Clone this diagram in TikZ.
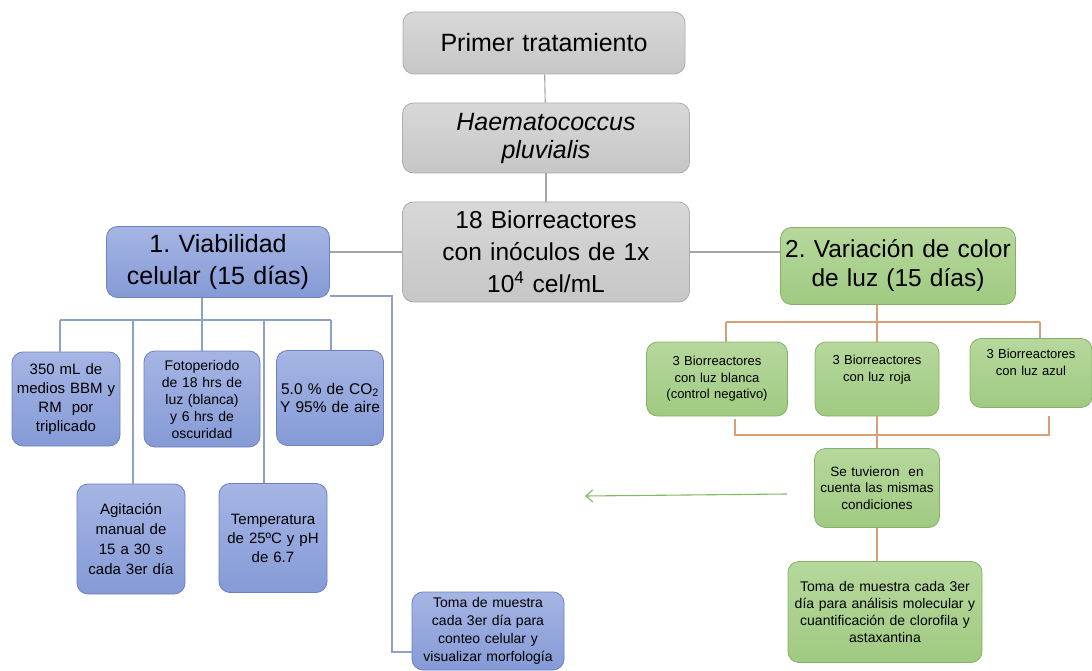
\documentclass[tikz,border=0pt]{standalone}
\usepackage{fontspec}
\setmainfont{Liberation Sans}
\usetikzlibrary{positioning,calc,arrows.meta}

\definecolor{graytop}{RGB}{216,216,216}
\definecolor{graybot}{RGB}{198,198,198}
\definecolor{grayedge}{RGB}{172,172,172}
\definecolor{grayln}{RGB}{165,165,165}
\definecolor{bluetop}{RGB}{165,181,228}
\definecolor{bluebot}{RGB}{133,154,214}
\definecolor{blueedge}{RGB}{108,128,190}
\definecolor{blueln}{RGB}{140,160,200}
\definecolor{greentop}{RGB}{182,216,156}
\definecolor{greenbot}{RGB}{160,202,130}
\definecolor{greenedge}{RGB}{132,176,104}
\definecolor{orangeln}{RGB}{214,160,120}
\definecolor{arrowgreen}{RGB}{130,185,100}

\tikzset{
  box/.style={draw,rounded corners=11pt,align=center,inner sep=0pt,line width=0.8pt},
  graybox/.style={box,draw=grayedge,top color=graytop,bottom color=graybot},
  bluebox/.style={box,draw=blueedge,top color=bluetop,bottom color=bluebot},
  greenbox/.style={box,draw=greenedge,top color=greentop,bottom color=greenbot},
  grayline/.style={draw=grayln,line width=1.1pt},
  blueline/.style={draw=blueln,line width=1.3pt},
  orangeline/.style={draw=orangeln,line width=1.1pt},
}

\begin{document}
\frenchspacing
\begin{tikzpicture}[x=1pt,y=-1pt]
% Page size in pixels of the scheme
\useasboundingbox (0,0) rectangle (1092,671);

% Central column
\node[graybox,minimum width=282,minimum height=62,text width=270,
  font=\fontsize{25}{30}\selectfont] (primer) at (544,43) {Primer tratamiento};
\node[graybox,minimum width=287,minimum height=70,text width=275,
  font=\fontsize{25}{28}\selectfont\itshape] (haema) at (546,138) {Haematococcus\\pluvialis};
\node[graybox,minimum width=287,minimum height=100,text width=275,
  font=\fontsize{24.5}{32}\selectfont] (bio) at (546,252)
  {18 Biorreactores\\con inóculos de 1x\\10\textsuperscript{4} cel/mL};

\draw[grayline] (primer) -- (haema);
\draw[grayline] (haema) -- (bio);

% Branch 1 (blue)
\node[bluebox,minimum width=223,minimum height=71,text width=215,
  font=\fontsize{25}{32}\selectfont] (viab) at (218,262) {1. Viabilidad\\celular (15 días)};
\draw[grayline] (bio.west -| viab.east) -- (bio.west);

\node[bluebox,minimum width=108,minimum height=94,text width=104,
  font=\fontsize{15}{19}\selectfont] (medio) at (66,399)
  {350 mL de\\medios BBM y\\RM\ \ por\\triplicado};
\node[bluebox,minimum width=116,minimum height=96,text width=112,
  font=\fontsize{14}{17}\selectfont] (foto) at (202,399)
  {Fotoperiodo\\de 18 hrs de\\luz (blanca)\\y 6 hrs de\\oscuridad};
\node[bluebox,minimum width=107,minimum height=95,text width=103,
  font=\fontsize{15.5}{18.5}\selectfont] (gas) at (330,398)
  {5.0 \% de CO\textsubscript{2}\\Y 95\% de aire};
\node[bluebox,minimum width=108,minimum height=110,text width=104,
  font=\fontsize{15}{20}\selectfont] (agit) at (131,539)
  {Agitación\\manual de\\15 a 30 s\\cada 3er día};
\node[bluebox,minimum width=108,minimum height=109,text width=104,
  font=\fontsize{15}{19}\selectfont] (temp) at (273,538)
  {Temperatura\\de 25ºC y pH\\de 6.7};
\node[bluebox,minimum width=152,minimum height=78,text width=148,
  font=\fontsize{14}{18}\selectfont] (tomab) at (488,631)
  {Toma de muestra\\cada 3er día para\\conteo celular y\\visualizar morfología};

% Comb under branch 1
\coordinate (cl) at (60,320);
\coordinate (cr) at (331,320);
\coordinate (ca) at (133,320);
\coordinate (ct) at (264,320);
\draw[blueline] (cl) -- (cr);
\draw[blueline] (cl) -- (cl |- medio.north);
\draw[blueline] (cr) -- (cr |- gas.north);
\draw[blueline] (foto.north |- viab.south) -- (foto.north);
\draw[blueline] (ca) -- (ca |- agit.north);
\draw[blueline] (ct) -- (ct |- temp.north);

% Side line down to sampling
\coordinate (sd) at (392,296);
\coordinate (sb) at (392,652);
\draw[blueline] (viab.east |- sd) -- (sd) -- (sb) -- (sb -| tomab.west);

% Branch 2 (green)
\node[greenbox,minimum width=235,minimum height=77,text width=231,
  font=\fontsize{24.5}{29}\selectfont] (varia) at (898,266) {2. Variación de color\\de luz (15 días)};
\draw[grayline] (bio.east) -- (bio.east -| varia.west);

\node[greenbox,minimum width=141,minimum height=74,text width=137,
  font=\fontsize{13}{16.5}\selectfont] (blanca) at (717,379)
  {3 Biorreactores\\con luz blanca\\(control negativo)};
\node[greenbox,minimum width=124,minimum height=74,text width=120,
  font=\fontsize{13}{16.5}\selectfont] (roja) at (877,379)
  {3 Biorreactores\\con luz roja\\\strut};
\node[greenbox,minimum width=122,minimum height=69,text width=118,
  font=\fontsize{13}{16.5}\selectfont] (azul) at (1031,373)
  {3 Biorreactores\\con luz azul\\\strut};

\coordinate (ol) at (726,322);
\coordinate (or) at (1040,322);
\draw[orangeline] (ol) -- (or);
\draw[orangeline] (ol) -- (ol |- blanca.north);
\draw[orangeline] (or) -- (or |- azul.north);
\draw[orangeline] (roja.north |- varia.south) -- (roja.north);

\node[greenbox,minimum width=125,minimum height=79,text width=121,
  font=\fontsize{13.5}{16.5}\selectfont] (tuv) at (877,488)
  {Se tuvieron\ \ en\\cuenta las mismas\\condiciones};
\node[greenbox,minimum width=194,minimum height=101,text width=190,
  font=\fontsize{14}{17}\selectfont] (tomag) at (885,612)
  {Toma de muestra cada 3er\\día para análisis molecular y\\cuantificación de clorofila y\\astaxantina};

% Comb under the three reactors
\coordinate (ul) at (735,435);
\coordinate (ur) at (1049,435);
\draw[orangeline] ($(ul)+(0,-16)$) -- (ul) -- (ur) -- ($(ur)+(0,-19)$);
\draw[orangeline] (roja.south) -- (tuv.north);
\draw[orangeline] (tuv.south) -- (tuv.south |- tomag.north);

% Arrow back to branch 1
\coordinate (aa) at (787,494);
\coordinate (ab) at (585,496);
\draw[arrowgreen,line width=1.1pt,-{Straight Barb[length=7pt,width=12pt]}] (aa) -- (ab);
\end{tikzpicture}
\end{document}
